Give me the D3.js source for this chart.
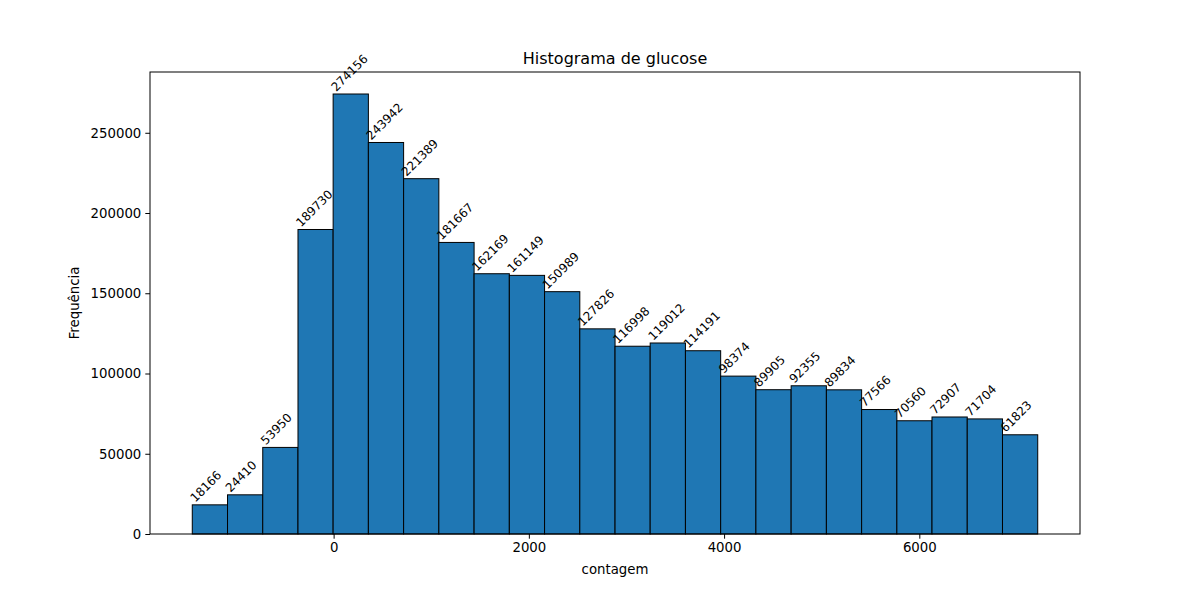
<!DOCTYPE html>
<html>
<head>
<meta charset="utf-8">
<script src="https://cdn.jsdelivr.net/npm/d3@7"></script>
<style>
  body { margin: 0; background: #fff; }
  svg text { font-family: "DejaVu Sans", sans-serif; fill: #000; }
</style>
</head>
<body>
<svg id="chart" width="1200" height="600"></svg>
<script>
// histogram data
var binEdges = [-1448, -1087, -726, -365, -5, 356, 717, 1078, 1439, 1800, 2161, 2522,
    2883, 3243, 3604, 3965, 4326, 4687, 5048, 5409, 5770, 6130, 6491, 6852, 7213];
var counts = [18166, 24410, 53950, 189730, 274156, 243942, 221389, 181667, 162169,
    161149, 150989, 127826, 116998, 119012, 114191, 98374, 89905, 92355, 89834,
    77566, 70560, 72907, 71704, 61823];
var xTicks = [0, 2000, 4000, 6000];
var yTicks = [0, 50000, 100000, 150000, 200000, 250000];

var width = 1200;
var height = 600;
var margin = {left: 150, right: 120, top: 72, bottom: 66};

var bins = counts.map(function(c, i) {
    return {x0: binEdges[i], x1: binEdges[i + 1], n: c};
});

var lo = binEdges[0], hi = binEdges[binEdges.length - 1];
var pad = (hi - lo) * 0.05;
var x = d3.scaleLinear()
    .domain([lo - pad, hi + pad])
    .range([margin.left, width - margin.right]);
var y = d3.scaleLinear()
    .domain([0, d3.max(counts) * 1.05])
    .range([height - margin.bottom, margin.top]);

var svg = d3.select('#chart');

svg.append('g')
    .selectAll('rect')
    .data(bins)
    .enter()
    .append('rect')
    .attr('x', function(d) { return x(d.x0); })
    .attr('y', function(d) { return y(d.n); })
    .attr('width', function(d) { return x(d.x1) - x(d.x0); })
    .attr('height', function(d) { return y(0) - y(d.n); })
    .style('fill', '#1f77b4')
    .style('stroke', '#000')
    .style('stroke-width', 1);

// value labels, rotated 45 degrees at the left edge of each bar
svg.append('g')
    .selectAll('text')
    .data(bins)
    .enter()
    .append('text')
    .attr('transform', function(d) {
        return 'translate(' + (x(d.x0) + 3) + ',' + (y(d.n) - 2) + ') rotate(-45)';
    })
    .style('font-size', '12px')
    .text(function(d) { return d.n; });

// frame
svg.append('rect')
    .attr('x', margin.left)
    .attr('y', margin.top)
    .attr('width', width - margin.left - margin.right)
    .attr('height', height - margin.top - margin.bottom)
    .style('fill', 'none')
    .style('stroke', '#000')
    .style('stroke-width', 1);

var xAxis = svg.append('g')
    .attr('transform', 'translate(0,' + (height - margin.bottom) + ')')
    .call(d3.axisBottom(x).tickValues(xTicks).tickSize(4.7).tickPadding(4).tickFormat(d3.format('d')));
var yAxis = svg.append('g')
    .attr('transform', 'translate(' + margin.left + ',0)')
    .call(d3.axisLeft(y).tickValues(yTicks).tickSize(4.7).tickPadding(4).tickFormat(d3.format('d')));

[xAxis, yAxis].forEach(function(a) {
    a.select('.domain').remove();
    a.selectAll('.tick line').style('stroke', '#000').style('stroke-width', 1);
    a.selectAll('.tick text')
        .style('font-family', '"DejaVu Sans", sans-serif')
        .style('font-size', '13.3px')
        .style('fill', '#000');
});

svg.append('text')
    .attr('x', (margin.left + width - margin.right) / 2)
    .attr('y', 64)
    .attr('text-anchor', 'middle')
    .style('font-size', '16px')
    .text('Histograma de glucose');

svg.append('text')
    .attr('x', (margin.left + width - margin.right) / 2)
    .attr('y', 574)
    .attr('text-anchor', 'middle')
    .style('font-size', '13.3px')
    .text('contagem');

svg.append('text')
    .attr('transform', 'translate(79,' + ((margin.top + height - margin.bottom) / 2) + ') rotate(-90)')
    .attr('text-anchor', 'middle')
    .style('font-size', '13.3px')
    .text('Frequência');
</script>
</body>
</html>
